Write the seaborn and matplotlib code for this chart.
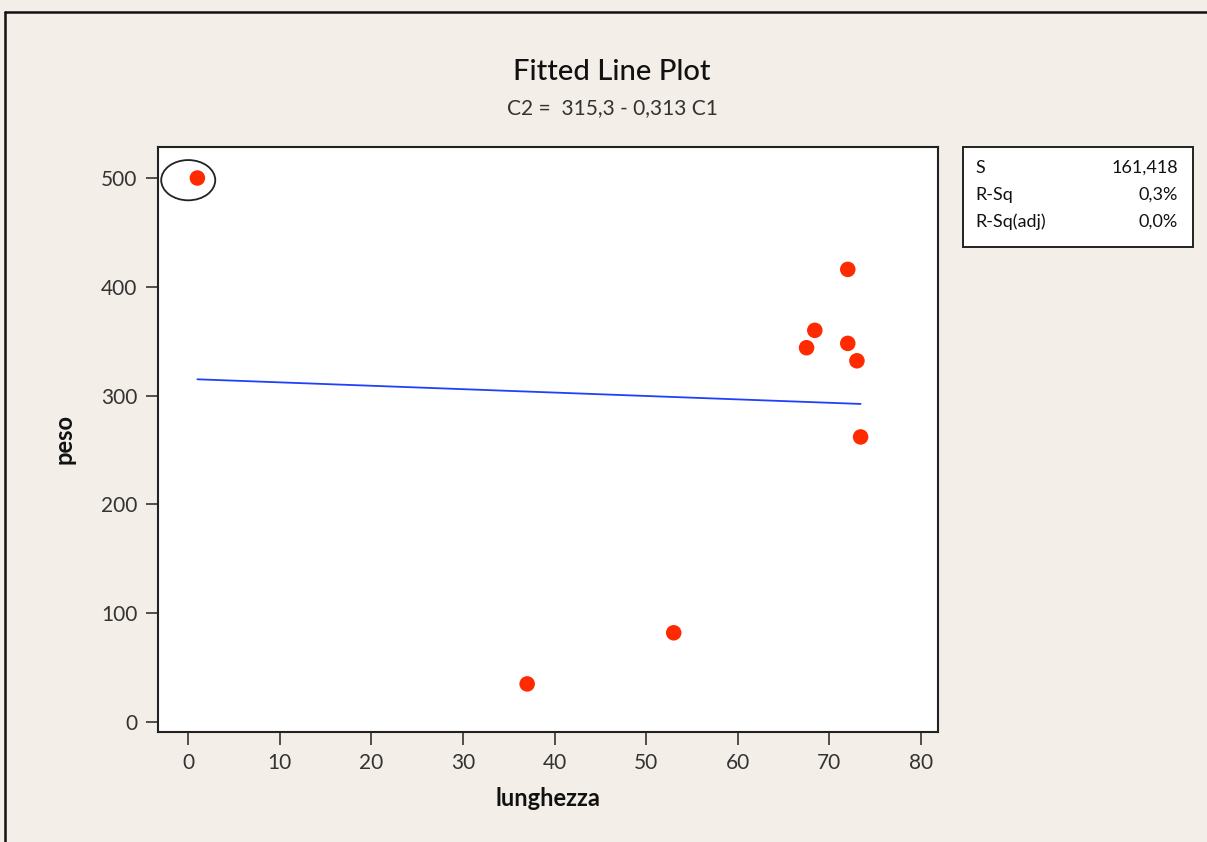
import numpy as np
import pandas as pd
import matplotlib
matplotlib.use("Agg")
import matplotlib.pyplot as plt
import seaborn as sns
from matplotlib.patches import Ellipse, Rectangle
from matplotlib.lines import Line2D

# data
lunghezza = [1, 37, 53, 67.5, 68.4, 72.0, 72.0, 73.0, 73.4]
peso = [500, 35, 82, 344, 360, 416, 348, 332, 262]
intercept = 315.3
slope = -0.313
stats_labels = ["S", "R-Sq", "R-Sq(adj)"]
stats_values = ["161,418", "0,3%", "0,0%"]
x_ticks = [0, 10, 20, 30, 40, 50, 60, 70, 80]
y_ticks = [0, 100, 200, 300, 400, 500]

sns.set_theme(style="white")
plt.rcParams["font.family"] = ["Lato", "DejaVu Sans"]

bg = "#f3efe8"
fig = plt.figure(figsize=(12.07, 8.42), dpi=100, facecolor=bg)
W, H = 1207, 842
ax = fig.add_axes([158 / W, 1 - 732 / H, (938 - 158) / W, (732 - 147) / H])
ax.set_facecolor("white")

df = pd.DataFrame({"lunghezza": lunghezza, "peso": peso})
xfit = np.array([min(lunghezza), max(lunghezza)])
fit = pd.DataFrame({"x": xfit, "y": intercept + slope * xfit})
sns.lineplot(data=fit, x="x", y="y", ax=ax, color="#2040ff", linewidth=1.3)
sns.scatterplot(data=df, x="lunghezza", y="peso", ax=ax, color="#ff2a00",
                s=125, edgecolor="none", zorder=3)

ax.add_patch(Ellipse((0.0, 498), 5.9, 37, fill=False, edgecolor="#222222",
                     linewidth=1.3, zorder=4))

ax.set_xlim(-3.3, 81.85)
ax.set_ylim(-9.2, 528.5)
ax.set_xticks(x_ticks)
ax.set_yticks(y_ticks)
ax.tick_params(axis="both", direction="out", length=9, width=1.2, color="#333333",
               labelsize=15, labelcolor="#333333", bottom=True, left=True, pad=6)
for sp in ax.spines.values():
    sp.set_visible(True)
    sp.set_color("#222222")
    sp.set_linewidth(1.5)
ax.set_xlabel("lunghezza", fontsize=17, fontweight="bold", color="#111111", labelpad=10)
ax.set_ylabel("peso", fontsize=17, fontweight="bold", color="#111111", labelpad=18)

fig.text(612 / W, 1 - 72 / H, "Fitted Line Plot", ha="center", va="center",
         fontsize=21, fontweight="medium", color="#111111")
fig.text(612 / W, 1 - 108 / H, "C2 =  315,3 - 0,313 C1", ha="center", va="center",
         fontsize=15, color="#333333")

# stats box
fig.patches.append(Rectangle((963 / W, 1 - 247 / H), (1193 - 963) / W, 100 / H,
                             transform=fig.transFigure, facecolor="white",
                             edgecolor="#222222", linewidth=1.4))
for i, (lab, val) in enumerate(zip(stats_labels, stats_values)):
    yy = 1 - (168 + i * 27) / H
    fig.text(975 / W, yy, lab, ha="left", va="center", fontsize=13, color="#111111")
    fig.text(1178 / W, yy, val, ha="right", va="center", fontsize=13, color="#111111")

# outer frame
fig.lines.append(Line2D([5 / W, 5 / W], [0, 1 - 12 / H], transform=fig.transFigure,
                        color="#111111", linewidth=1.8))
fig.lines.append(Line2D([5 / W, 1], [1 - 12 / H, 1 - 12 / H], transform=fig.transFigure,
                        color="#111111", linewidth=1.8))

fig.savefig("out.png", dpi=100, facecolor=bg)
